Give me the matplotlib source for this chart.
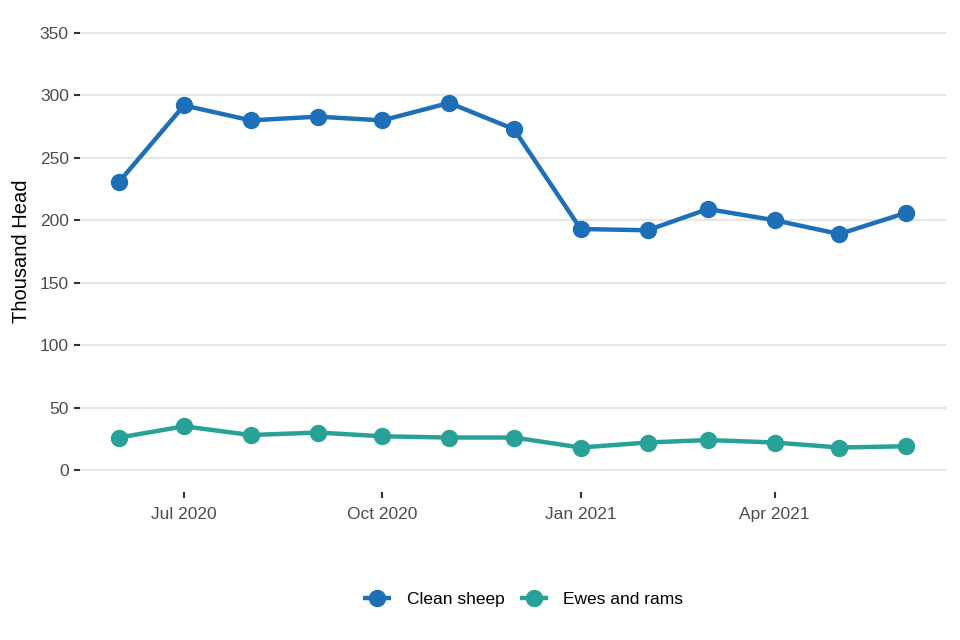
import matplotlib
matplotlib.use("Agg")
import matplotlib.pyplot as plt
import matplotlib.dates as mdates
import numpy as np
import datetime as dt

plt.rcParams['font.family'] = ['Liberation Sans', 'DejaVu Sans']

months = ["2020-06", "2020-07", "2020-08", "2020-09", "2020-10", "2020-11", "2020-12",
          "2021-01", "2021-02", "2021-03", "2021-04", "2021-05", "2021-06"]
clean_sheep = [231, 292, 280, 283, 280, 294, 273, 193, 192, 209, 200, 189, 206]
ewes_and_rams = [26, 35, 28, 30, 27, 26, 26, 18, 22, 24, 22, 18, 19]
series_names = ["Clean sheep", "Ewes and rams"]
colors = ["#1d70b8", "#28a197"]
y_ticks = [0, 50, 100, 150, 200, 250, 300, 350]
x_tick_months = ["2020-07", "2020-10", "2021-01", "2021-04"]
x_tick_labels = ["Jul 2020", "Oct 2020", "Jan 2021", "Apr 2021"]

dates = [dt.datetime.strptime(m, "%Y-%m") for m in months]
xt = [dt.datetime.strptime(m, "%Y-%m") for m in x_tick_months]

fig = plt.figure(figsize=(9.6, 6.4), dpi=100)
ax = fig.add_axes([0.0833, 0.2315, 0.9017, 0.7511])

for name, vals, c in zip(series_names, [clean_sheep, ewes_and_rams], colors):
    ax.plot(dates, vals, color=c, lw=3.2, marker='o', ms=11.5, label=name,
            solid_capstyle='butt')

x0 = mdates.date2num(dates[0]); x1 = mdates.date2num(dates[-1])
pad = (x1 - x0) * 0.05
ax.set_xlim(x0 - pad, x1 + pad)
ax.set_ylim(-17.5, 367.5)
ax.set_yticks(y_ticks)
ax.set_xticks(xt)
ax.set_xticklabels(x_tick_labels)

ax.grid(axis='y', color='#e6e6e6', lw=1.5)
ax.set_axisbelow(True)
for s in ax.spines.values():
    s.set_visible(False)
ax.tick_params(axis='both', colors='#333333', labelcolor='#4d4d4d', labelsize=12.5,
               length=4, width=1.5, pad=4)
ax.tick_params(axis='x', pad=7)
ax.set_ylabel("Thousand Head", fontsize=14.5, color='black', labelpad=6)

leg = fig.legend(loc='center', bbox_to_anchor=(0.545, 0.063), ncol=2, frameon=False,
                 fontsize=12.5, handlelength=1.6, handletextpad=0.9, columnspacing=0.9)

fig.savefig("out.png", dpi=100)
